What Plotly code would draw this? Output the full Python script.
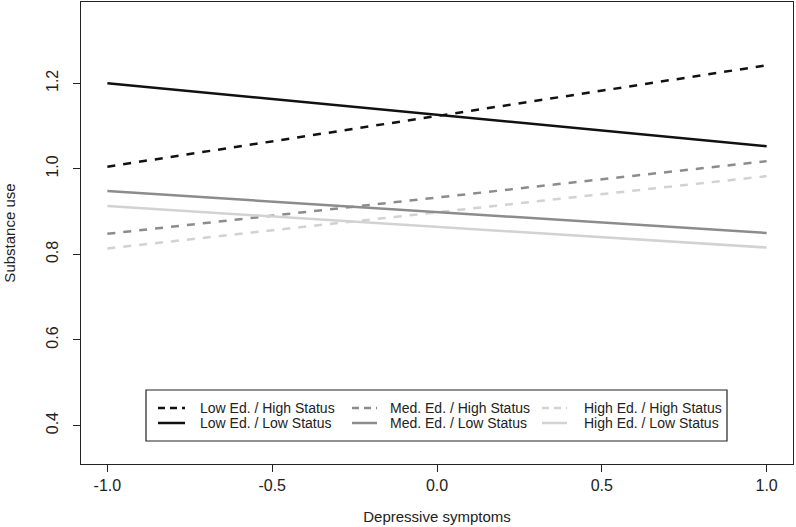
import plotly.graph_objects as go

x_vals = [-1.0, 1.0]
series_names = [
    "Low Ed. / High Status", "Med. Ed. / High Status", "High Ed. / High Status",
    "Low Ed. / Low Status", "Med. Ed. / Low Status", "High Ed. / Low Status",
]
series_values = [
    [1.005, 1.242],
    [0.848, 1.018],
    [0.814, 0.983],
    [1.200, 1.053],
    [0.948, 0.850],
    [0.913, 0.816],
]
series_colors = ["#111111", "#8c8c8c", "#d2d2d2", "#111111", "#8c8c8c", "#d2d2d2"]
series_dash = ["8px,8px"] * 3 + ["solid"] * 3

x_ticks = [-1.0, -0.5, 0.0, 0.5, 1.0]
x_tick_labels = ["-1.0", "-0.5", "0.0", "0.5", "1.0"]
y_ticks = [0.4, 0.6, 0.8, 1.0, 1.2]
y_tick_labels = ["0.4", "0.6", "0.8", "1.0", "1.2"]

W, H = 796, 527
ml, mr, mt, mb = 81, 3, 2, 63
pw = W - ml - mr
ph = H - mt - mb
FONT = "Arial, 'Liberation Sans', Helvetica, sans-serif"


def px_x(p):
    return (p - ml) / pw


def px_y(p):
    return (H - mb - p) / ph


fig = go.Figure()
for name, vals, col, dash in zip(series_names, series_values, series_colors, series_dash):
    fig.add_trace(go.Scatter(
        x=x_vals, y=vals, mode="lines", name=name,
        line=dict(color=col, width=2.5, dash=dash),
        showlegend=False, hoverinfo="skip",
    ))

# manual legend (3 columns x 2 rows)
shapes = []
annotations = []
shapes.append(dict(type="rect", xref="paper", yref="paper",
                   x0=px_x(146), x1=px_x(727), y0=px_y(441), y1=px_y(390),
                   line=dict(color="#222", width=1.2), fillcolor="white", layer="above"))
col_line_x = [(158, 185), (352, 377), (542, 567)]
col_text_x = [198, 388, 582]
row_y = [408, 423]
for i, name in enumerate(series_names):
    row, col = divmod(i, 3)
    lx0, lx1 = col_line_x[col]
    yy = px_y(row_y[row])
    shapes.append(dict(type="line", xref="paper", yref="paper",
                       x0=px_x(lx0), x1=px_x(lx1), y0=yy, y1=yy,
                       line=dict(color=series_colors[i], width=2.5,
                                 dash="7px,5px" if series_dash[i] != "solid" else "solid"),
                       layer="above"))
    annotations.append(dict(xref="paper", yref="paper", x=px_x(col_text_x[col]), y=yy,
                            xanchor="left", yanchor="middle", showarrow=False,
                            text=name, font=dict(size=14, color="#222", family=FONT)))

fig.update_layout(
    width=W, height=H,
    margin=dict(l=ml, r=mr, t=mt, b=mb, autoexpand=False),
    paper_bgcolor="white", plot_bgcolor="white",
    font=dict(family=FONT, size=15, color="#222"),
    showlegend=False,
    shapes=shapes,
    annotations=annotations,
)
fig.update_xaxes(
    range=[-1.08, 1.08],
    tickvals=x_ticks, ticktext=x_tick_labels,
    ticks="outside", ticklen=7, tickcolor="#222", tickwidth=1,
    showline=True, linecolor="#222", linewidth=1.2, mirror=True,
    showgrid=False, zeroline=False,
    title=dict(text="Depressive symptoms", standoff=18, font=dict(size=15)),
    tickfont=dict(size=16),
    automargin=False,
)
fig.update_yaxes(
    range=[0.31, 1.39],
    tickvals=y_ticks, ticktext=y_tick_labels,
    ticks="outside", ticklen=7, tickcolor="#222", tickwidth=1,
    showline=True, linecolor="#222", linewidth=1.2, mirror=True,
    showgrid=False, zeroline=False,
    tickangle=-90,
    ticklabelstandoff=9,
    title=dict(text="Substance use", standoff=24, font=dict(size=15)),
    tickfont=dict(size=16),
    automargin=False,
)

fig.write_html("out.html", config={"displayModeBar": False},
               post_script="document.body.style.margin='0';document.body.style.overflow='hidden';")
